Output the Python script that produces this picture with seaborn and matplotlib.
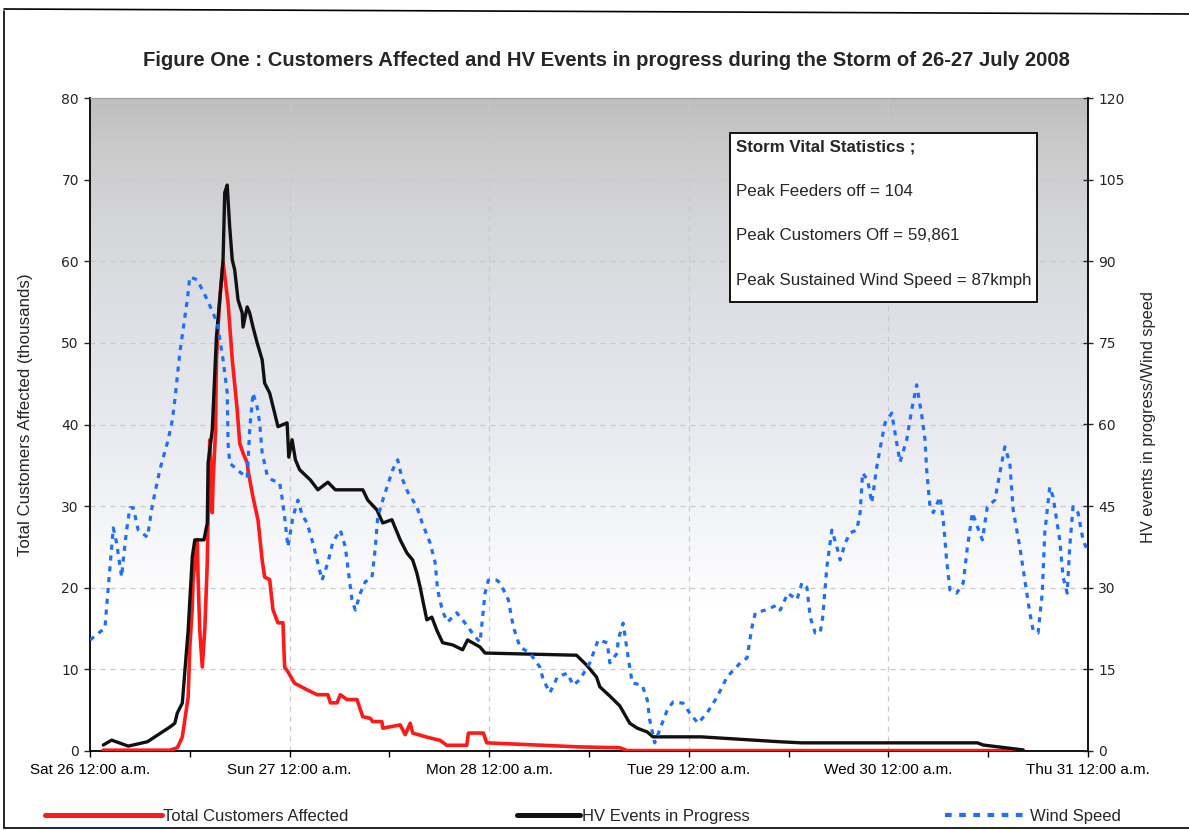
import numpy as np
import matplotlib
matplotlib.use("Agg")
import matplotlib.pyplot as plt
import seaborn as sns
from matplotlib.colors import LinearSegmentedColormap
from matplotlib.lines import Line2D
from matplotlib.patches import Rectangle

# ---------------- data (hours since Sat 26 July 2008 00:00) ----------------
day_tick_labels = ["Sat 26 12:00 a.m.", "Sun 27 12:00 a.m.", "Mon 28 12:00 a.m.",
                   "Tue 29 12:00 a.m.", "Wed 30 12:00 a.m.", "Thu 31 12:00 a.m."]

# Total Customers Affected (thousands) - left axis
cust_hours = [1.6, 9.6, 10.5, 11.1, 11.4, 11.8, 12.0, 12.3, 12.4, 12.9, 13.0, 13.2, 13.5, 13.8,
              14.1, 14.2, 14.4, 14.7, 14.8, 15.1, 15.2, 15.4, 15.6, 16.0, 16.6, 17.1, 17.7,
              18.0, 18.4, 18.9, 19.0, 19.6, 20.2, 20.7, 21.0, 21.6, 22.0, 22.6, 23.2, 23.4,
              23.8, 24.6, 26.1, 27.3, 28.6, 28.9, 29.7, 30.1, 30.9, 32.1, 32.8, 33.7, 34.0,
              35.1, 35.2, 37.3, 37.9, 38.5, 38.8, 40.5, 42.1, 42.9, 45.3, 45.5, 47.3, 47.7,
              58.9, 63.7, 64.6, 80.0, 112.2]
cust_values = [0.1, 0.1, 0.4, 1.7, 3.8, 6.6, 12.7, 17.6, 21.0, 25.9, 21.0, 14.8, 10.3, 14.8,
               23.0, 29.2, 38.1, 29.2, 33.0, 39.3, 47.9, 52.0, 55.3, 59.9, 54.9, 48.0, 41.8,
               37.7, 36.5, 35.3, 34.4, 31.1, 28.3, 23.4, 21.3, 21.0, 17.3, 15.7, 15.7, 10.3,
               9.7, 8.3, 7.5, 6.9, 6.9, 5.9, 5.9, 6.9, 6.3, 6.3, 4.2, 4.0, 3.6,
               3.6, 2.8, 3.2, 2.0, 3.4, 2.2, 1.7, 1.3, 0.7, 0.7, 2.2, 2.2, 1.0,
               0.5, 0.4, 0.05, 0.05, 0.05]

# HV Events in Progress - right axis
hv_hours = [1.6, 2.6, 4.6, 6.9, 8.1, 9.6, 10.2, 10.5, 11.1, 11.8, 12.3, 12.6, 13.7, 14.1,
            14.2, 14.7, 15.2, 15.6, 16.0, 16.2, 16.5, 16.6, 16.8, 17.1, 17.4, 17.8, 18.3,
            18.4, 18.9, 19.2, 19.6, 20.1, 20.7, 21.0, 21.6, 22.2, 22.6, 23.7, 23.9, 24.3,
            24.7, 25.2, 26.5, 27.4, 28.6, 29.5, 32.8, 33.4, 34.5, 35.2, 36.3, 37.3, 38.1,
            38.8, 39.3, 39.7, 40.0, 40.5, 41.1, 41.7, 42.4, 43.6, 44.8, 45.4, 46.9, 47.5,
            58.5, 59.7, 60.9, 61.3, 62.5, 63.7, 64.9, 65.8, 67.0, 67.7, 73.5, 82.9, 85.6,
            106.7, 107.4, 112.2]
hv_values = [1.1, 2.0, 0.9, 1.7, 2.9, 4.4, 5.1, 7.0, 8.8, 22.2, 35.7, 38.8, 38.8, 41.9,
             52.9, 59.0, 76.1, 82.9, 90.3, 102.6, 104.0, 101.3, 96.3, 90.3, 88.4, 82.9, 80.5,
             77.9, 81.6, 80.5, 77.9, 75.0, 71.9, 67.6, 65.8, 62.1, 59.6, 60.3, 54.0, 57.2,
             53.5, 51.7, 49.8, 48.0, 49.4, 48.0, 48.0, 46.1, 44.3, 41.9, 42.5, 38.8, 36.4,
             35.1, 32.7, 30.1, 27.8, 24.1, 24.6, 22.2, 19.9, 19.5, 18.6, 20.4, 19.1, 18.0,
             17.6, 15.8, 13.6, 11.8, 10.1, 8.3, 5.1, 4.2, 3.5, 2.6, 2.6, 1.7, 1.5,
             1.5, 1.1, 0.2]

# Wind Speed (km/h) - right axis
wind_hours = [0, 1.8, 2.0, 2.4, 2.8, 3.2, 3.8, 4.0, 4.4, 4.8,
              5.2, 5.8, 6.9, 7.5, 8.4, 9.4, 9.9, 10.2, 10.8, 11.7,
              12.0, 12.9, 14.1, 15.3, 16.0, 16.5, 16.6, 16.8, 18.0, 18.9,
              19.2, 19.6, 20.1, 20.4, 20.7, 21.3, 21.9, 22.8, 23.1, 23.4,
              23.8, 24.4, 25.0, 25.5, 26.1, 26.8, 27.3, 27.9, 28.6, 29.2,
              30.1, 30.7, 31.0, 31.5, 31.9, 32.5, 33.1, 33.9, 34.3, 34.6,
              35.2, 36.4, 37.0, 37.5, 38.2, 39.3, 39.9, 40.9, 41.5, 41.8,
              42.4, 43.0, 44.1, 45.1, 46.3, 46.9, 47.5, 47.9, 48.9, 49.3,
              50.3, 50.9, 51.7, 52.9, 54.1, 54.5, 55.3, 56.2, 57.4, 58.1,
              58.9, 60.1, 61.1, 62.2, 62.5, 63.4, 63.5, 64.1, 64.7, 65.2,
              66.4, 67.0, 67.3, 67.9, 68.5, 69.4, 70.1, 71.3, 72.1, 73.1,
              74.2, 75.4, 76.6, 78.2, 79.0, 79.6, 80.0, 81.2, 82.6, 83.0,
              83.9, 85.0, 85.6, 86.2, 86.6, 87.2, 87.8, 88.1, 88.6, 89.2,
              89.8, 90.2, 90.8, 91.4, 92.2, 92.6, 92.9, 93.5, 94.0, 94.6,
              95.2, 95.6, 96.4, 97.0, 97.4, 98.2, 98.8, 99.4, 100.0, 100.4,
              100.6, 101.0, 101.4, 102.2, 102.6, 103.0, 103.4, 104.2, 105.0, 105.5,
              106.1, 106.7, 107.3, 107.9, 108.8, 109.4, 110.0, 110.6, 111.0, 111.8,
              112.4, 113.0, 113.4, 114.0, 114.5, 114.8, 115.4, 115.8, 116.6, 117.0,
              117.5, 117.8, 118.2, 118.8, 119.4, 120.0]
wind_values = [20.4, 22.6, 26.5, 33.8, 41.0, 38.2, 32.0, 35.1, 40.6, 44.7,
               44.7, 40.6, 39.3, 45.2, 51.7, 57.2, 60.8, 64.5, 73.2, 82.9,
               87.1, 86.6, 82.9, 78.7, 71.9, 65.8, 56.6, 52.9, 51.3, 50.2,
               59.0, 65.8, 63.2, 60.3, 54.8, 50.7, 49.8, 49.3, 46.5, 43.0,
               37.5, 43.0, 46.1, 43.4, 41.9, 38.2, 35.1, 31.4, 34.6, 38.4,
               40.6, 37.5, 33.8, 27.8, 25.9, 29.0, 31.1, 31.8, 37.3, 43.0,
               46.1, 51.7, 53.5, 50.2, 47.6, 44.9, 42.1, 38.2, 34.6, 29.6,
               25.6, 23.7, 25.4, 23.5, 21.0, 20.0, 29.0, 31.4, 31.4, 30.9,
               27.8, 22.8, 19.1, 18.0, 15.4, 13.1, 10.7, 13.6, 14.3, 12.1,
               13.1, 16.2, 20.4, 19.9, 16.2, 18.0, 20.4, 23.5, 17.3, 12.5,
               12.1, 9.4, 5.7, 1.5, 3.9, 7.5, 9.0, 8.8, 7.0, 5.1,
               7.0, 9.9, 13.6, 16.2, 17.1, 22.8, 25.4, 25.9, 26.8, 25.9,
               29.0, 27.8, 30.9, 30.1, 24.6, 21.7, 21.7, 24.6, 33.8, 40.6,
               37.5, 35.1, 38.2, 40.1, 40.6, 43.8, 51.1, 49.8, 45.6, 52.2,
               57.2, 60.3, 62.1, 56.6, 53.1, 57.2, 62.7, 67.3, 61.8, 57.2,
               51.7, 44.9, 43.8, 46.7, 42.5, 35.1, 29.6, 29.0, 30.9, 37.5,
               43.8, 41.2, 38.8, 44.9, 46.1, 51.1, 55.9, 52.9, 44.3, 37.5,
               31.4, 25.4, 22.2, 21.7, 29.0, 40.1, 48.5, 46.7, 38.8, 32.0,
               29.0, 37.5, 44.9, 43.8, 38.8, 36.6]

stats_lines = ["Storm Vital Statistics ;", "Peak Feeders off = 104",
               "Peak Customers Off = 59,861", "Peak Sustained Wind Speed = 87kmph"]

title = "Figure One : Customers Affected and HV Events in progress during the Storm of 26-27 July 2008"

# ---------------- styling ----------------
sns.set_style("ticks")
plt.rcParams["font.family"] = ["Liberation Sans", "DejaVu Sans"]

SANS = ["Liberation Sans", "DejaVu Sans"]
VERD = ["DejaVu Sans"]
RED = "#ff1a1a"
BLACK = "#111111"
BLUE = "#1f6fff"

W, H = 1189, 830
fig = plt.figure(figsize=(W / 100, H / 100), dpi=100)
fig.patch.set_facecolor("white")


def fx(px):
    return px / W


def fy(py):
    return 1 - py / H


ax = fig.add_axes([fx(90), fy(751), fx(1088) - fx(90), fy(98) - fy(751)])
ax2 = ax.twinx()

# gradient background
stops = [(0.0, "#ffffff"), (0.22, "#ffffff"), (0.36, "#f3f4f7"), (0.52, "#e6e8ee"),
         (0.68, "#dddfe4"), (0.82, "#d4d5d8"), (0.93, "#cacacb"), (1.0, "#bebebe")]
cmap = LinearSegmentedColormap.from_list("bg", stops)
grad = np.linspace(0, 1, 256).reshape(-1, 1)
ax.imshow(grad, extent=[0, 1, 0, 1], transform=ax.transAxes, cmap=cmap,
          aspect="auto", origin="lower", zorder=0, interpolation="bicubic")

# lines
sns.lineplot(x=cust_hours, y=cust_values, ax=ax, color=RED, linewidth=2.6,
             estimator=None, sort=False, zorder=3)
sns.lineplot(x=hv_hours, y=hv_values, ax=ax2, color=BLACK, linewidth=2.4,
             estimator=None, sort=False, zorder=3)
sns.lineplot(x=wind_hours, y=wind_values, ax=ax2, color=BLUE, linewidth=2.3,
             linestyle=(0, (1.6, 1.8)), estimator=None, sort=False, zorder=4)

# axes limits / ticks
ax.set_xlim(0, 120)
ax.set_ylim(0, 80)
ax2.set_ylim(0, 120)
day_ticks = np.arange(0, 121, 24)
ax.set_xticks(day_ticks)
ax.set_xticks(np.arange(12, 120, 24), minor=True)
ax.set_xticklabels(day_tick_labels)
ax.set_yticks(np.arange(0, 81, 10))
ax2.set_yticks(np.arange(0, 121, 15))

ax.tick_params(axis="x", which="both", direction="out", length=4, width=1, pad=5,
               labelsize=11, colors="black")
ax.tick_params(axis="y", direction="out", length=4, width=1, labelsize=10, pad=4)
ax2.tick_params(axis="y", direction="inout", length=7, width=1, labelsize=10, pad=4)
for lbl in ax.get_xticklabels():
    lbl.set_fontfamily(SANS)
for lbl in ax.get_yticklabels() + ax2.get_yticklabels():
    lbl.set_fontfamily(VERD)

# grid
for v in np.arange(10, 80, 10):
    ax.axhline(v, color="#c9c9c9", lw=0.9, ls=(0, (4, 4)), zorder=1)
for d in day_ticks[1:-1]:
    ax.axvline(d, color="#c9c9c9", lw=0.9, ls=(0, (4, 4)), zorder=1)

for s in ["left", "bottom"]:
    ax.spines[s].set_color("black")
    ax.spines[s].set_linewidth(1.3)
ax.spines["top"].set_color("#9a9a9a")
ax.spines["right"].set_visible(False)
for s in ["left", "top", "bottom"]:
    ax2.spines[s].set_visible(False)
ax2.spines["right"].set_color("black")
ax2.spines["right"].set_linewidth(1.3)

ax.set_xlabel("")
ax.set_ylabel("Total Customers Affected (thousands)", fontsize=12.2)
ax.yaxis.set_label_coords(-0.057, 0.515)
ax2.set_ylabel("HV events in progress/Wind speed", fontsize=11.8, rotation=90)
ax2.yaxis.set_label_coords(1.053, 0.511)

# title
fig.text(fx(606), fy(60), title, ha="center", va="center", fontsize=14.6,
         fontweight="bold", family=SANS)

# statistics box
fig.add_artist(Rectangle((fx(730), fy(302)), fx(1037) - fx(730), (302 - 133) / H,
                         transform=fig.transFigure, facecolor="white",
                         edgecolor="black", lw=1.3, zorder=5))
for i, (txt, ypx) in enumerate(zip(stats_lines, [147, 191, 236, 281])):
    fig.text(fx(736), fy(ypx), txt, ha="left", va="center", fontsize=12.2,
             fontweight="bold" if i == 0 else "normal", zorder=6)

# legends
legend_specs = [
    (Line2D([], [], color=RED, lw=3.6), "Total Customers Affected", 45, 7.0),
    (Line2D([], [], color=BLACK, lw=3.6), "HV Events in Progress", 517, 3.8),
    (Line2D([], [], color=BLUE, lw=3.0, ls=(0, (1.6, 1.8))), "Wind Speed", 945, 5.0),
]
for handle, label, xpx, hl in legend_specs:
    fig.legend(handles=[handle], labels=[label], loc="center left",
               bbox_to_anchor=(fx(xpx), fy(816)), frameon=False, handlelength=hl,
               handletextpad=0.1, borderpad=0, borderaxespad=0,
               prop={"family": SANS, "size": 12})

# outer border
fig.add_artist(Line2D([fx(4), fx(4)], [fy(11), fy(828)], transform=fig.transFigure,
                      color="black", lw=1.2))
fig.add_artist(Line2D([fx(4), 1.0], [fy(9), fy(14)], transform=fig.transFigure,
                      color="black", lw=1.2))
fig.add_artist(Line2D([fx(4), 1.0], [fy(828), fy(828)], transform=fig.transFigure,
                      color="black", lw=1.2))

fig.savefig("out.png", dpi=100)
